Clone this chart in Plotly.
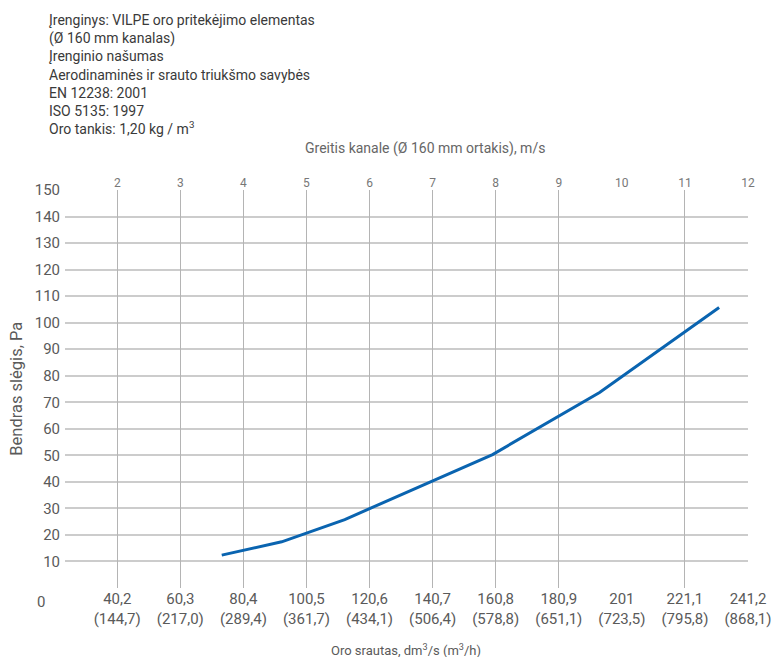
import plotly.graph_objects as go

# curve
flow = [73.5, 92.6, 112.7, 159.8, 193.9, 232.0]      # dm3/s
pressure = [12.4, 17.4, 25.8, 50.3, 73.7, 105.7]     # Pa

flow_ticks = [40.2, 60.3, 80.4, 100.5, 120.6, 140.7, 160.8, 180.9, 201, 221.1, 241.2]
flow_labels = ["40,2", "60,3", "80,4", "100,5", "120,6", "140,7", "160,8", "180,9", "201", "221,1", "241,2"]
flow_m3h = ["144,7", "217,0", "289,4", "361,7", "434,1", "506,4", "578,8", "651,1", "723,5", "795,8", "868,1"]
grid_flows = [40.2, 60.3, 80.4, 100.5, 120.6, 140.7, 160.8, 180.9, 221.1, 241.2]
speed_ticks = [2, 3, 4, 5, 6, 7, 8, 9, 10, 11, 12]
pressure_ticks = list(range(10, 151, 10))

header = [
    "Įrenginys: VILPE oro pritekėjimo elementas",
    "(Ø 160 mm kanalas)",
    "Įrenginio našumas",
    "Aerodinaminės ir srauto triukšmo savybės",
    "EN 12238: 2001",
    "ISO 5135: 1997",
    "Oro tankis: 1,20 kg / m<sup>3</sup>",
]

FONT = "Roboto"
W, H = 784, 657
L, R, T, B = 65, 758, 190, 588
x_lo = 23.55
speed_per_flow = 20.1


def px(x):
    return (x - L) / (R - L)


def py(y):
    return (B - y) / (B - T)


fig = go.Figure()
fig.add_trace(go.Scatter(
    x=flow, y=pressure, mode="lines",
    line=dict(color="#0a64b0", width=3),
    showlegend=False, hoverinfo="skip",
))
# empty traces so the top axis and the grid axis get drawn
fig.add_trace(go.Scatter(x=[None], y=[None], xaxis="x2", showlegend=False))
fig.add_trace(go.Scatter(x=[None], y=[None], xaxis="x3", showlegend=False))

fig.update_layout(
    width=W, height=H,
    margin=dict(l=L, r=W - R, t=T, b=H - B),
    plot_bgcolor="white", paper_bgcolor="white",
    font=dict(family=FONT, color="#555555"),
    xaxis=dict(
        range=[x_lo, 241.2], tickvals=flow_ticks,
        ticktext=[f"{a}<br>({b})" for a, b in zip(flow_labels, flow_m3h)],
        showgrid=False, zeroline=False, showline=False, ticks="",
        tickfont=dict(size=15, color="#5a5a5a"),
    ),
    xaxis2=dict(
        range=[x_lo / speed_per_flow, 241.2 / speed_per_flow],
        tickvals=speed_ticks, overlaying="x", side="top", anchor="y",
        showgrid=False, zeroline=False, showline=False, ticks="",
        tickfont=dict(size=12, color="#777777"),
    ),
    xaxis3=dict(
        range=[x_lo, 241.2], tickvals=grid_flows, overlaying="x",
        showticklabels=False, showgrid=True, gridcolor="#b4b4b4", gridwidth=1,
        zeroline=False, showline=False, ticks="",
    ),
    yaxis=dict(
        range=[0, 150], tickvals=pressure_ticks,
        showgrid=True, gridcolor="#cccccc", gridwidth=1.5,
        zeroline=False, showline=False, ticks="", ticklabelstandoff=4,
        tickfont=dict(size=15, color="#5a5a5a"),
    ),
)

fig.add_annotation(
    text="<br>".join(header), xref="paper", yref="paper",
    x=px(47), y=py(10), xanchor="left", yanchor="top", align="left",
    showarrow=False, font=dict(size=14, color="#3a3a3a"),
)
fig.add_annotation(
    text="Greitis kanale (Ø 160 mm ortakis), m/s", xref="paper", yref="paper",
    x=px(430), y=py(148), xanchor="center", yanchor="middle",
    showarrow=False, font=dict(size=14, color="#666666"),
)
fig.add_annotation(
    text="Oro srautas, dm<sup>3</sup>/s (m<sup>3</sup>/h)", xref="paper", yref="paper",
    x=px(411), y=py(650), xanchor="center", yanchor="middle",
    showarrow=False, font=dict(size=13, color="#5a5a5a"),
)
fig.add_annotation(
    text="Bendras slėgis, Pa", xref="paper", yref="paper",
    x=px(15), y=py(389), xanchor="center", yanchor="middle", textangle=-90,
    showarrow=False, font=dict(size=16.5, color="#5a5a5a"),
)
fig.add_annotation(
    text="0", xref="paper", yref="paper",
    x=px(41), y=py(602), xanchor="center", yanchor="middle",
    showarrow=False, font=dict(size=15, color="#5a5a5a"),
)

fig.write_html(
    "out.html",
    config={"displayModeBar": False},
    post_script="document.body.style.margin='0';",
)
